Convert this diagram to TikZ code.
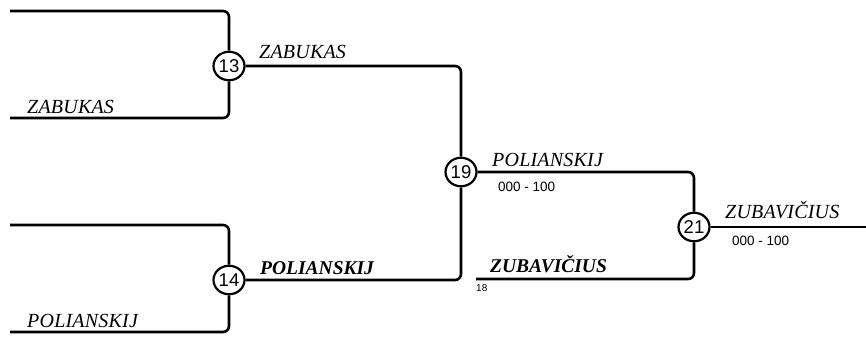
\documentclass[tikz,border=0pt]{standalone}
\usepackage{fontspec}
\usetikzlibrary{shapes.geometric}
\setmainfont{Liberation Serif}
\newfontfamily\labfont[LetterSpace=1]{Liberation Serif}
\newfontfamily\blabfont{Liberation Serif}
\newfontfamily\numfont{Liberation Sans}
\begin{document}
\begin{tikzpicture}[x=1pt,y=-1pt,
  wire/.style={line width=2.6pt,rounded corners=6pt},
  seedbox/.style={draw,line width=2.2pt,ellipse,minimum width=31pt,minimum height=28.5pt,inner sep=0pt,font=\numfont\fontsize{18.5}{18.5}\selectfont},
  plabel/.style={anchor=base west,inner sep=0pt,font=\labfont\itshape\fontsize{20}{22}\selectfont},
  pblabel/.style={anchor=base west,inner sep=0pt,font=\blabfont\bfseries\itshape\fontsize{19.5}{22}\selectfont},
  scorelabel/.style={anchor=base west,inner sep=0pt,font=\numfont\fontsize{13.5}{15}\selectfont},
  smalllabel/.style={anchor=base west,inner sep=0pt,font=\numfont\fontsize{10}{12}\selectfont}]
\useasboundingbox (0,0) rectangle (866,338);
% seeds
\node[seedbox] (n13) at (229,66) {13};
\node[seedbox] (n14) at (229,280) {14};
\node[seedbox] (n19) at (461,172) {19};
\node[seedbox] (n21) at (694,227) {21};
% free ends
\coordinate (a1) at (10,11);
\coordinate (a2) at (10,118);
\coordinate (b1) at (10,225);
\coordinate (b2) at (10,332);
\coordinate (c2) at (476,279);
\coordinate (e) at (866,227);
% wires
\draw[wire] (a1) -| (n13.north);
\draw[wire] (a2) -| (n13.south);
\draw[wire] (b1) -| (n14.north);
\draw[wire] (b2) -| (n14.south);
\draw[wire] (n13.east) -| (n19.north);
\draw[wire] (n14.east) -| (n19.south);
\draw[wire] (n19.east) -| (n21.north);
\draw[wire] (c2) -| (n21.south);
\draw[wire] (n21.east) -- (e);
% labels
\node[plabel] (t1) at (27,113) {ZABUKAS};
\node[plabel] (t2) at (27,327) {POLIANSKIJ};
\node[plabel] (t3) at (259,58) {ZABUKAS};
\node[pblabel] (t4) at (260,274) {POLIANSKIJ};
\node[plabel] (t5) at (492,166) {POLIANSKIJ};
\node[scorelabel] (s1) at (498,191) {000 - 100};
\node[pblabel] (t6) at (490,272) {ZUBAVIČIUS};
\node[smalllabel] (s3) at (476,291) {18};
\node[plabel] (t7) at (725,218) {ZUBAVIČIUS};
\node[scorelabel] (s2) at (732,245) {000 - 100};
\end{tikzpicture}
\end{document}
